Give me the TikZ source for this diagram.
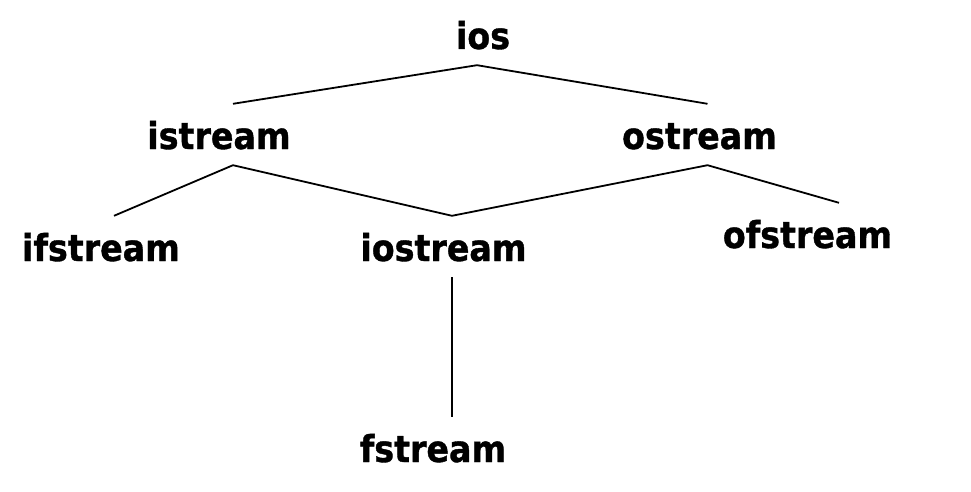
\documentclass[tikz,border=0pt]{standalone}
\usepackage{fontspec}
\newfontfamily\treefont{DejaVu Sans Condensed}[BoldFeatures={FakeBold=1}]
\begin{document}
\begin{tikzpicture}[x=1pt,y=-1pt,
    cls/.style={anchor=base, inner xsep=0pt, inner ysep=16pt, text height=29pt, text depth=0pt,
      font=\treefont\bfseries\fontsize{37}{40}\selectfont},
    link/.style={line width=1.8pt}]
    \useasboundingbox[fill=white] (0,0) rectangle (971,492);
    \node[cls] (ios) at (483,49) {ios};
    \node[cls] (istream) at (219,149) {istream};
    \node[cls] (ostream) at (699.5,149) {ostream};
    \node[cls] (ifstream) at (101,261) {ifstream};
    \node[cls] (iostream) at (443.5,261) {iostream};
    \node[cls] (ofstream) at (807.5,248) {ofstream};
    \node[cls] (fstream) at (433,462) {fstream};
    \draw[link] ([xshift=14pt]istream.north) -- ([xshift=-6pt]ios.south) -- ([xshift=8pt]ostream.north);
    \draw[link] ([xshift=13pt]ifstream.north) -- ([xshift=14pt]istream.south) -- ([xshift=8.5pt]iostream.north)
      -- ([xshift=8pt]ostream.south) -- ([xshift=31.5pt]ofstream.north);
    \draw[link] ([xshift=8.5pt]iostream.south) -- ([xshift=19pt]fstream.north);
\end{tikzpicture}
\end{document}
